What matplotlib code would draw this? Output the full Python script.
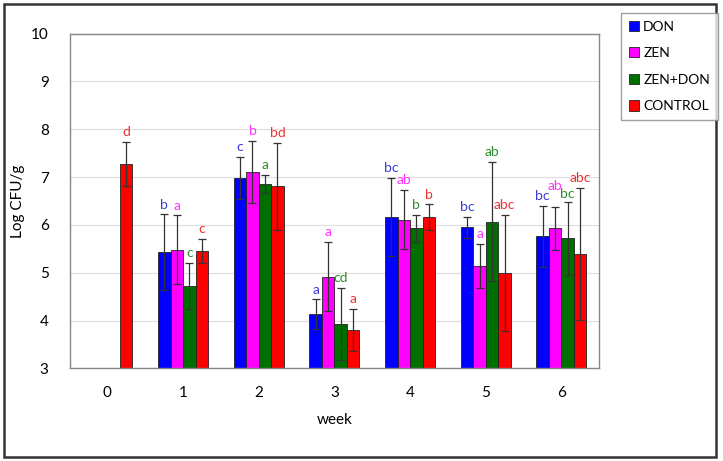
import matplotlib
matplotlib.use("Agg")
import matplotlib.pyplot as plt
import numpy as np
from matplotlib.patches import Rectangle, Patch

plt.rcParams['font.family'] = ['Lato', 'DejaVu Sans']

weeks = ["0", "1", "2", "3", "4", "5", "6"]
series_names = ["DON", "ZEN", "ZEN+DON", "CONTROL"]

don = [np.nan, 5.43, 6.98, 4.13, 6.16, 5.95, 5.76]
zen = [np.nan, 5.48, 7.11, 4.92, 6.11, 5.15, 5.93]
zendon = [np.nan, 4.73, 6.86, 3.93, 5.93, 6.07, 5.72]
control = [7.28, 5.46, 6.81, 3.81, 6.16, 4.99, 5.39]

don_err = [np.nan, 0.79, 0.44, 0.31, 0.82, 0.22, 0.64]
zen_err = [np.nan, 0.72, 0.65, 0.73, 0.62, 0.46, 0.45]
zendon_err = [np.nan, 0.48, 0.19, 0.76, 0.28, 1.24, 0.76]
control_err = [0.46, 0.25, 0.91, 0.44, 0.27, 1.22, 1.38]

don_lab = ["", "b", "c", "a", "bc", "bc", "bc"]
zen_lab = ["", "a", "b", "a", "ab", "a", "ab"]
zendon_lab = ["", "c", "a", "cd", "b", "ab", "bc"]
control_lab = ["d", "c", "bd", "a", "b", "abc", "abc"]

values = [don, zen, zendon, control]
errors = [don_err, zen_err, zendon_err, control_err]
labels = [don_lab, zen_lab, zendon_lab, control_lab]
bar_colors = ["#0000ff", "#ff00ff", "#006f00", "#ff0000"]
text_colors = ["#3a3ad8", "#ff33ff", "#2e8b2e", "#f03030"]

# extra vertical nudge (data units) for crowded letter labels: (series, week)
label_nudge = {(1, 6): 0.22, (2, 6): -0.04}

fig = plt.figure(figsize=(7.23, 4.61), dpi=100)
# outer border
fig.patches.append(Rectangle((4/723, 1-457/461), (716-4)/723, (457-4)/461,
                             transform=fig.transFigure, fill=False,
                             edgecolor="#333333", linewidth=1.8))

ax = fig.add_axes([69.5/723, 1-368.3/461, (599.3-69.5)/723, (368.3-33.7)/461])
x = np.arange(len(weeks))
w = 0.165
for i, (vals, errs, labs) in enumerate(zip(values, errors, labels)):
    pos = x + (i - 1.5) * w
    ax.bar(pos, vals, width=w, color=bar_colors[i], edgecolor="#222222",
           linewidth=0.6, zorder=2)
    ax.errorbar(pos, vals, yerr=errs, fmt="none", ecolor="#333333",
                elinewidth=0.9, capsize=3, capthick=0.9, zorder=3)
    for k, (p, v, e, t) in enumerate(zip(pos, vals, errs, labs)):
        if t and not np.isnan(v):
            dy = label_nudge.get((i, k), 0.0)
            ax.text(p, v + e + 0.08 + dy, t, ha="center", va="bottom",
                    color=text_colors[i], fontsize=10)

ax.set_xlim(-0.5, len(weeks) - 0.5)
ax.set_ylim(3, 10)
ax.set_xticks(x)
ax.set_xticklabels(weeks)
ax.set_yticks(range(3, 11))
ax.tick_params(axis="both", length=0, labelsize=11)
ax.tick_params(axis="x", pad=13)
ax.tick_params(axis="y", pad=15)
ax.yaxis.grid(True, color="#e0e0e0", linewidth=0.9, zorder=0)
ax.set_axisbelow(True)
for s in ax.spines.values():
    s.set_color("#888888")
    s.set_linewidth(1.0)
ax.set_xlabel("week", fontsize=11, labelpad=9)
ax.set_ylabel("Log CFU/g", fontsize=11, labelpad=4)

handles = [Patch(facecolor=c, edgecolor="#222222", linewidth=0.6) for c in bar_colors]
leg = fig.legend(handles, series_names, loc="upper left",
                 bbox_to_anchor=(621/723, 1-13/461), fontsize=10,
                 frameon=True, fancybox=False, edgecolor="#888888",
                 handlelength=0.75, handleheight=0.75, handletextpad=0.3,
                 labelspacing=1.05, borderpad=0.55, borderaxespad=0)
leg.get_frame().set_linewidth(1.0)

fig.savefig("out.png", dpi=100)
